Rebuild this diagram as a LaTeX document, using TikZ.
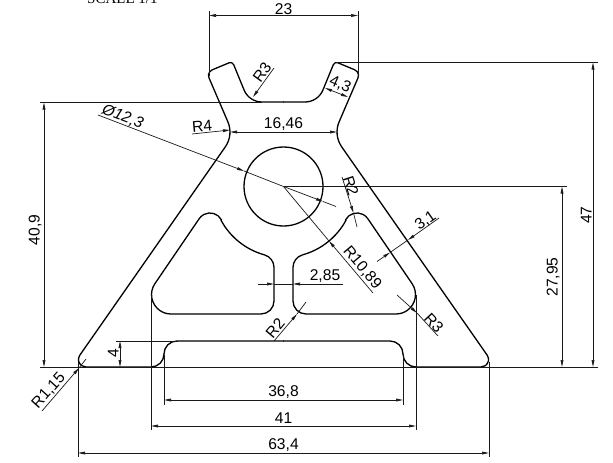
\documentclass[tikz,border=0pt]{standalone}
\usepackage{fontspec}
\setmainfont{Liberation Sans}
\newfontfamily\serifcap{Liberation Serif}
\usetikzlibrary{arrows.meta}
\tikzset{
  outline/.style={line width=1.3pt,line cap=round,line join=round},
  dimline/.style={line width=0.7pt,black!90},
  tip/.tip={Stealth[length=7pt,width=2.8pt,inset=0pt]},
  arrowed/.style={dimline,-tip},
  twoway/.style={dimline,tip-tip},
  lab/.style={inner sep=0pt,text height=11pt,text depth=0pt,font=\fontsize{15.6}{18}\selectfont},
}
\newcommand{\windowpath}{
  (221.45,219.85) arc[start angle=332,end angle=214.8,radius=13]
  -- (155,283.5) arc[start angle=214.8,end angle=90,radius=19.4]
  -- (261,314) arc[start angle=90,end angle=0,radius=13]
  -- (274,267.4) arc[start angle=360,end angle=285.5,radius=13]
  arc[start angle=105.5,end angle=151.8,radius=71] -- cycle
}
\newcommand{\halfpath}{
  (283.5,102) -- (262,102) arc[start angle=90,end angle=157.8,radius=19.4]
  -- (233.7,64.7) arc[start angle=337.8,end angle=247.8,radius=3.5]
  -- (212.2,69.85) arc[start angle=247.8,end angle=155.9,radius=6]
  -- (227.7,121.4) arc[start angle=-24.1,end angle=34.8,radius=26]
  -- (79.8,355.2) arc[start angle=214.8,end angle=90,radius=7.5]
  -- (151,367) arc[start angle=90,end angle=0,radius=13]
  arc[start angle=180,end angle=270,radius=13] -- (283.5,341)
}
\begin{document}
\begin{tikzpicture}[x=1pt,y=-1pt]
\useasboundingbox (0,0) rectangle (613,463);
% part
\draw[outline] \halfpath;
\draw[outline] \windowpath;
\begin{scope}[shift={(567,0)},xscale=-1]
\draw[outline] \halfpath;
\draw[outline] \windowpath;
\end{scope}
\draw[outline] (283.5,186.5) circle[radius=39.5pt];
% heading
\node[inner sep=0pt,anchor=base west,font=\serifcap\fontsize{15}{18}\selectfont] (scale) at (87,3) {SCALE 1/1};
% extension lines
\draw[dimline] (209,11) -- (209,76);
\draw[dimline] (358,11) -- (358,76);
\draw[dimline] (336,62.5) -- (598,62.5);
\draw[dimline] (40,102.5) -- (262,102.5);
\draw[dimline] (283.5,186.5) -- (567,186.5);
\draw[dimline] (40,367) -- (598,367);
\draw[dimline] (116,341) -- (178,341);
\draw[dimline] (164,355) -- (164,405);
\draw[dimline] (403,355) -- (403,405);
\draw[dimline] (151,295) -- (151,430);
\draw[dimline] (416,295) -- (416,430);
\draw[dimline] (78,362) -- (78,457);
\draw[dimline] (489,362) -- (489,457);
% 23
\draw[twoway] (209,15.5) -- (358,15.5);
\node[lab] (d23) at (283.5,8.5) {23};
% 16,46
\draw[twoway] (230,132) -- (337,132);
\node[lab] (d1646) at (283.5,123) {16,46};
% 4,3
\draw[twoway] (325,88) -- (348,97);
\node[lab,rotate=-23] (d43) at (340.5,83.5) {4,3};
% R3 top
\draw[arrowed] (274,68) -- (253,97);
\node[lab,rotate=54] (r3top) at (262,72.5) {R3};
% R4
\draw[arrowed] (192,134) -- (230,130);
\node[lab,rotate=5] (r4) at (202,126) {R4};
% diameter
\draw[arrowed] (98,115) -- (244,171);
\draw[arrowed] (283.5,186.5) -- (323,201.5);
\draw[dimline] (244,171) -- (283.5,186.5) (323,201.5) -- (336,206.5);
\node[lab,rotate=-21,font=\fontsize{15.6}{18}\selectfont\itshape] (dia) at (123,116) {Ø12,3};
% R2 upper right
\draw[arrowed] (342,177) -- (353.5,213);
\draw[dimline] (353.5,213) -- (357,227);
\node[lab,rotate=-72] (r2a) at (351,186) {R2};
% R10,89
\draw[arrowed] (373,293) -- (329,241);
\draw[dimline] (329,241) -- (283.5,186.5);
\node[lab,rotate=-50] (r1089) at (363,267) {R10,89};
% 3,1
\draw[arrowed] (377,261.5) -- (390,252.5);
\draw[arrowed] (439,218) -- (408,240);
\draw[dimline] (390,252.5) -- (408,240);
\node[lab,rotate=35] (d31) at (425,220) {3,1};
% R3 right
\draw[arrowed] (397,295) -- (417,313);
\draw[dimline] (417,313) -- (438,336);
\node[lab,rotate=-47] (r3r) at (434,323) {R3};
% 2,85
\draw[arrowed] (258,284) -- (274,284);
\draw[arrowed] (343,284) -- (293,284);
\draw[dimline] (274,284) -- (293,284);
\node[lab] (d285) at (325,275) {2,85};
% R2 lower
\draw[arrowed] (274,341) -- (297,314);
\draw[dimline] (297,314) -- (306,302);
\node[lab,rotate=50] (r2b) at (275,328) {R2};
% 4
\draw[twoway] (120,341) -- (120,367);
\node[lab,rotate=90] (d4) at (113,353) {4};
% R1,15
\draw[arrowed] (42,411) -- (79,368);
\draw[dimline] (79,368) -- (86,359);
\node[lab,rotate=48] (r115) at (48,390) {R1,15};
% bottom dims
\draw[twoway] (164,400) -- (403,400);
\node[lab] (d368) at (283.5,391) {36,8};
\draw[twoway] (151,426) -- (416,426);
\node[lab] (d41) at (283.5,418) {41};
\draw[twoway] (78,453) -- (489,453);
\node[lab] (d634) at (283.5,443.5) {63,4};
% vertical dims
\draw[twoway] (44,102.5) -- (44,367);
\node[lab,rotate=90] (d409) at (34,230) {40,9};
\draw[twoway] (562,186.5) -- (562,367);
\node[lab,rotate=90] (d2795) at (552,277) {27,95};
\draw[twoway] (593,62.5) -- (593,367);
\node[lab,rotate=90] (d47) at (586,215) {47};
\end{tikzpicture}
\end{document}
